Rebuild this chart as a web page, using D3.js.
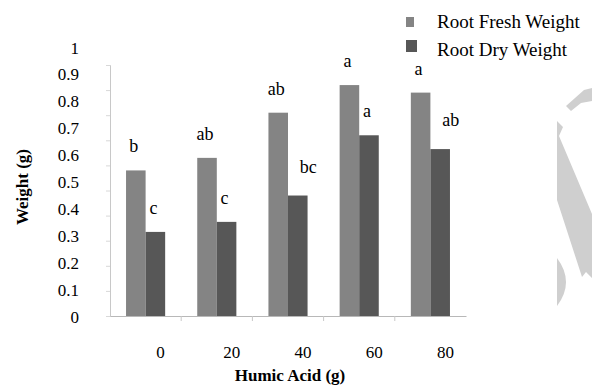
<!DOCTYPE html>
<html><head><meta charset="utf-8">
<script src="https://cdn.jsdelivr.net/npm/d3@7"></script>
<style>body{margin:0;background:#fff}svg{display:block}</style>
</head><body>
<script>
const categories = ["0","20","40","60","80"];
const seriesNames = ["Root Fresh Weight","Root Dry Weight"];
const freshWeight = [0.58,0.63,0.81,0.92,0.89];
const dryWeight = [0.335,0.375,0.48,0.72,0.665];
const freshLetters = ["b","ab","ab","a","a"];
const dryLetters = ["c","c","bc","a","ab"];
const yTicks = [0,0.1,0.2,0.3,0.4,0.5,0.6,0.7,0.8,0.9,1];

const W=592,H=385;
const colors=["#848484","#575757"];
const font="'Liberation Serif','Times New Roman',serif";
const svg=d3.select("body").append("svg").attr("width",W).attr("height",H).style("font-family",font);

const x=d3.scaleBand().domain(categories).range([110,466]).paddingInner(0).paddingOuter(0);
const xs=d3.scaleBand().domain([0,1]).range([0,x.bandwidth()]).paddingInner(0).paddingOuter(0.82);
const y=d3.scaleLinear().domain([0,1]).range([316,65]);
const yLab=d3.scaleLinear().domain([0,1]).range([316,47]);

// watermark
const wm=svg.append("g").attr("fill","#cfcfcf");
wm.append("path").attr("d","M566,106 L584,90 L592,88 L592,101 L581,103 L571,111 Z");
wm.append("path").attr("d","M557,121 L563,127 L559,136 L592,214 L592,278 L586,272 L582,277 L557,200 Z");
wm.append("path").attr("d","M557,258 Q575,282 557,306 Z");

// y axis
const ya=svg.append("g").attr("transform","translate(110,0)")
  .call(d3.axisLeft(y).tickValues(yTicks).tickFormat(d3.format("")).tickSize(4).tickPadding(27));
ya.attr("font-family",null);
ya.select(".domain").attr("stroke","#c8c8c8");
ya.selectAll(".tick line").attr("stroke","#d8d8d8");
ya.selectAll(".tick text").attr("font-size",17).attr("fill","#000").attr("font-family",font)
  .attr("dy",d=>(yLab(d)-y(d)+6)+"px");

// x axis
const xa=svg.append("g").attr("transform","translate(0,316)")
  .call(d3.axisBottom(x).tickSize(0).tickPadding(0));
xa.attr("font-family",null);
xa.select(".domain").attr("stroke","#b8b8b8");
xa.selectAll(".tick text").attr("font-size",17).attr("fill","#000").attr("font-family",font)
  .attr("dx",15).attr("y",42).attr("dy",0);
// boundary ticks
svg.append("g").selectAll("line").data(categories.slice(1)).join("line")
  .attr("x1",d=>x(d)).attr("x2",d=>x(d)).attr("y1",316).attr("y2",321)
  .attr("stroke","#c8c8c8");

// bars
const data=categories.map((c,i)=>({c,vals:[freshWeight[i],dryWeight[i]],lets:[freshLetters[i],dryLetters[i]]}));
const g=svg.append("g").selectAll("g").data(data).join("g").attr("transform",d=>`translate(${x(d.c)},0)`);
g.selectAll("rect").data(d=>d.vals).join("rect")
  .attr("x",(v,j)=>xs(j)).attr("width",xs.bandwidth())
  .attr("y",v=>y(v)).attr("height",v=>y(0)-y(v))
  .attr("fill",(v,j)=>colors[j]);
g.selectAll("text").data(d=>d.vals.map((v,j)=>({v,j,l:d.lets[j]}))).join("text")
  .each(function(d){
    const wide = d.j===1 && d.l.length>1;
    d3.select(this)
      .attr("x", xs(d.j)+xs.bandwidth()/2 + (wide?2:-2))
      .attr("y", y(d.v) - (wide?23:18))
      .attr("text-anchor", wide?"start":"middle");
  })
  .attr("font-size",18).text(d=>d.l);

// axis titles
svg.append("text").attr("x",290).attr("y",381).attr("text-anchor","middle")
  .attr("font-size",17).attr("font-weight","bold").text("Humic Acid (g)");
svg.append("text").attr("transform","translate(28,187) rotate(-90)").attr("text-anchor","middle")
  .attr("font-size",17).attr("font-weight","bold").text("Weight (g)");

// legend
const lg=svg.append("g").selectAll("g").data(seriesNames).join("g")
  .attr("transform",(d,i)=>`translate(406,${i===0?17:40})`);
lg.append("rect").attr("width",(d,i)=>i===0?8:11).attr("height",(d,i)=>i===0?10:12)
  .attr("fill",(d,i)=>colors[i]);
lg.append("text").attr("x",31).attr("y",(d,i)=>i===0?11:16).attr("font-size",19).text(d=>d);
</script>
</body></html>
